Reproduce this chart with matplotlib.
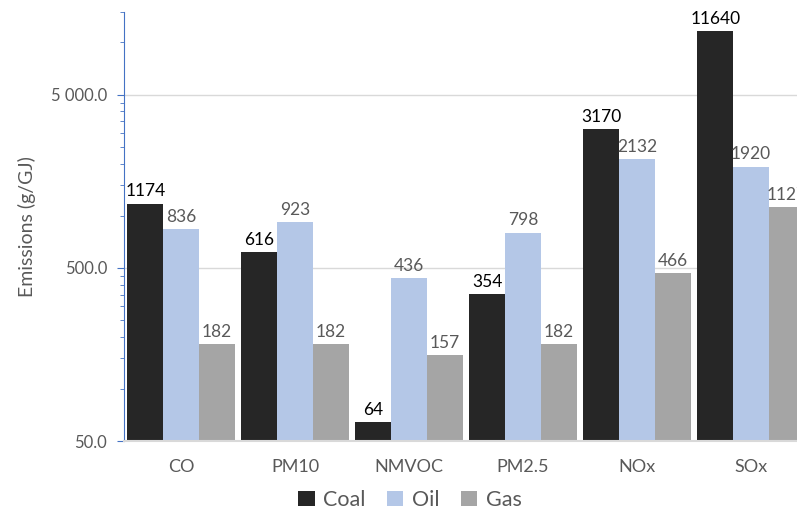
import numpy as np
import matplotlib
matplotlib.use("Agg")
import matplotlib.pyplot as plt
from matplotlib.ticker import FixedLocator, LogLocator, FuncFormatter, NullFormatter

plt.rcParams['font.family'] = ['Lato', 'DejaVu Sans']

# Data
pollutants = ["CO", "PM10", "NMVOC", "PM2.5", "NOx", "SOx"]
coal = [1174, 616, 64, 354, 3170, 11640]
oil = [836, 923, 436, 798, 2132, 1920]
gas = [182, 182, 157, 182, 466, 1127]

series = [("Coal", coal, "#262626", "#000000"),
          ("Oil", oil, "#b4c7e7", "#595959"),
          ("Gas", gas, "#a5a5a5", "#595959")]

grey = "#595959"
blue = "#4472c4"

fig = plt.figure(figsize=(7.97, 5.14), dpi=100)
ax = fig.add_axes([124 / 797, 1 - 441 / 514, 684 / 797, (441 - 12) / 514])

x = np.arange(len(pollutants))
w = 0.313
for i, (name, vals, col, lcol) in enumerate(series):
    pos = x + (i - 1) * w
    bars = ax.bar(pos, vals, width=w, color=col, label=name, zorder=2)
    for b, v in zip(bars, vals):
        ax.annotate(str(v), (b.get_x() + b.get_width() / 2, b.get_height()),
                    xytext=(0, 3), textcoords="offset points",
                    ha="center", va="bottom", fontsize=12.5, color=lcol)

ax.set_yscale("log")
ax.set_ylim(50, 15000)
ax.set_xlim(-0.5, len(pollutants) - 0.5)

ax.yaxis.set_major_locator(FixedLocator([50, 500, 5000]))
ax.yaxis.set_minor_locator(LogLocator(base=10, subs=np.arange(1, 10) * 0.5))
ax.yaxis.set_minor_formatter(NullFormatter())
ax.yaxis.set_major_formatter(FuncFormatter(lambda v, p: f"{v:,.1f}".replace(",", " ")))

ax.set_xticks(x)
ax.set_xticklabels(pollutants)
ax.tick_params(axis="x", length=0, pad=13, labelsize=13, labelcolor=grey)
ax.tick_params(axis="y", which="major", length=5, color=blue, pad=7,
               labelsize=12, labelcolor=grey)
ax.tick_params(axis="y", which="minor", length=3, color=blue)

ax.grid(axis="y", which="major", color="#d9d9d9", linewidth=1, zorder=0)
ax.set_axisbelow(True)

for s in ["top", "right"]:
    ax.spines[s].set_visible(False)
ax.spines["left"].set_color(blue)
ax.spines["bottom"].set_color("#d9d9d9")
ax.spines["bottom"].set_linewidth(1.5)

ax.set_ylabel("Emissions (g/GJ)", fontsize=14, color=grey)
ax.yaxis.set_label_coords(-0.128, 0.5)

fig.legend(loc="center", bbox_to_anchor=(410 / 797, 1 - 500 / 514), ncol=3,
           frameon=False, fontsize=15.5, labelcolor=grey, handlelength=0.75,
           handleheight=0.75, handletextpad=0.4, columnspacing=1.0)

fig.savefig("out.png", dpi=100)
